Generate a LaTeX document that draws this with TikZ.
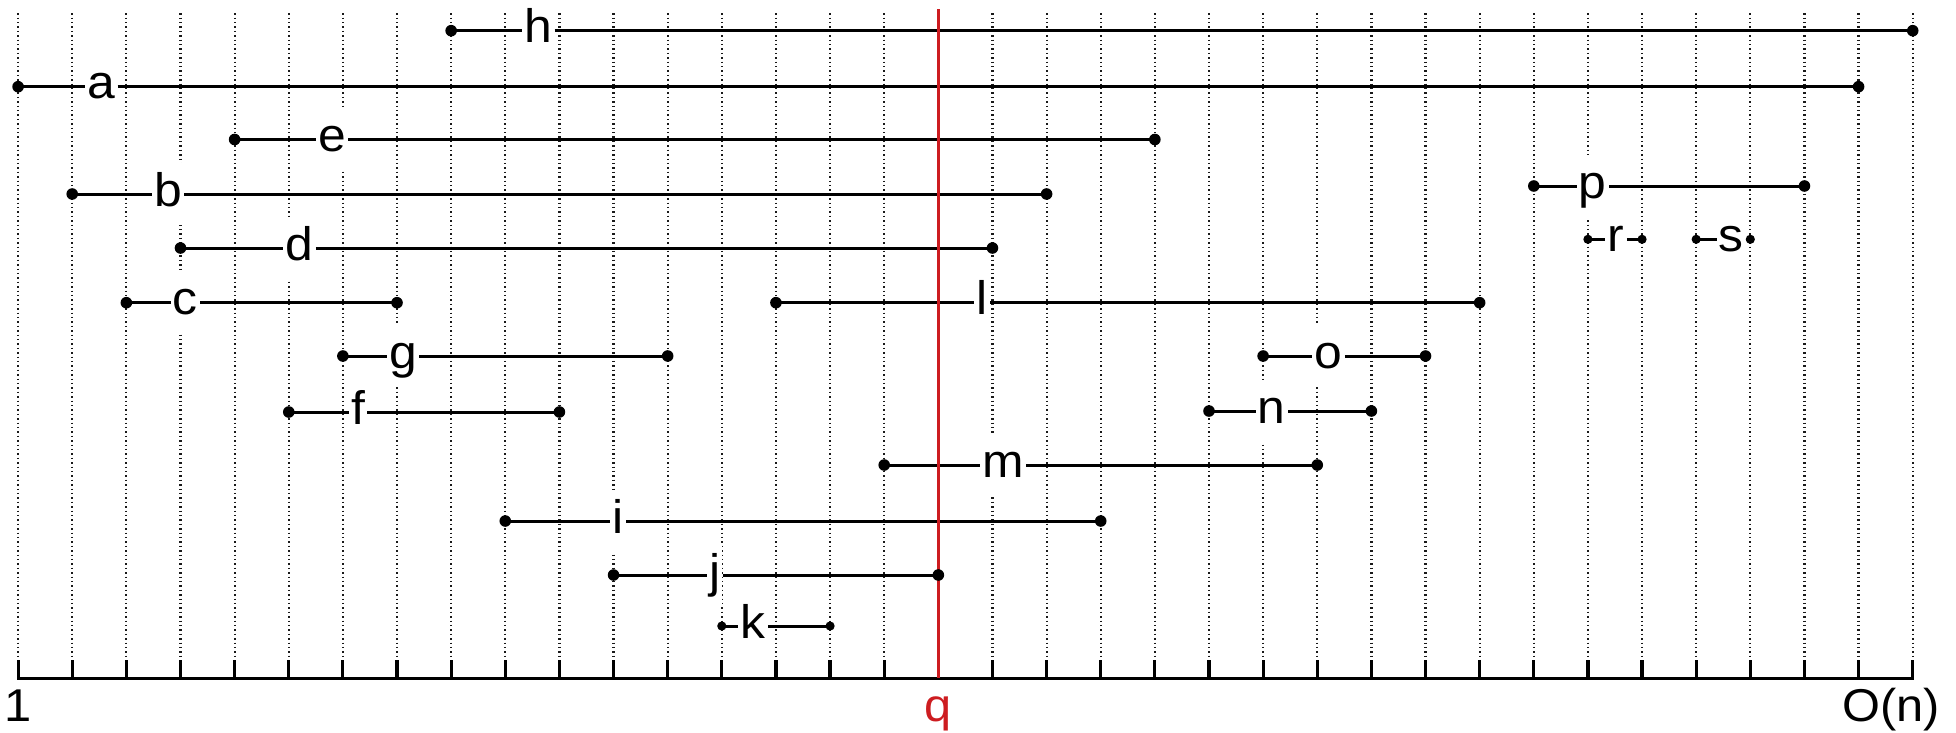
\documentclass[tikz,border=0pt]{standalone}
\usepackage{fontspec}
\setmainfont{Liberation Sans}
\newfontfamily\labfont[FakeStretch=1.06]{Liberation Sans}
\definecolor{qred}{RGB}{205,28,32}
\tikzset{
  gridline/.style={black!90, line width=1.1pt, dash pattern=on 0.7pt off 1.5pt},
  seg/.style={line width=1.5pt},
  axisline/.style={line width=1.6pt},
  qline/.style={qred, line width=1.5pt},
  lab/.style={fill=white, inner xsep=1pt, inner ysep=0pt, text height=21.6pt, text depth=9.4pt,
              font=\labfont\fontsize{23.5}{26}\selectfont},
  axlab/.style={anchor=base, inner sep=0pt, font=\labfont\fontsize{23}{26}\selectfont},
}
\begin{document}
\begin{tikzpicture}[x=27.065pt, y=-0.5pt]
\useasboundingbox (-0.3344,0) rectangle (35.80,732);
% grid
\foreach \k in {0,...,35} {
  \draw[gridline] (\k,13.3) -- (\k,660);
}
% axis
\coordinate (ax0) at (0,678.3);
\coordinate (ax35) at (35,678.3);
\draw[axisline] (0,660) -- (ax0) -- (ax35) -- (35,660);
\foreach \k in {1,...,34} {
  \draw[axisline] (\k,660) -- (\k,678.3);
}
% intervals
\foreach \n/\l/\r/\t/\y in {
  h/8/35/9.61/30.7, a/0/34/1.54/86.7, e/4/21/5.8/139.5, b/1/19/2.77/194,
  p/28/33/29.09/186, d/3/18/5.2/248, r/29/30/29.52/239.3, s/31/32/31.65/239.3,
  c/2/7/3.09/302.7, l/14/27/17.81/302.7, g/6/12/7.11/356, o/23/26/24.21/356,
  f/5/10/6.28/412, n/22/25/23.16/411, m/16/24/18.2/465, i/9/20/11.09/521,
  j/11/17/12.87/575, k/13/15/13.58/626} {
  \coordinate (\n-L) at (\l,\y);
  \coordinate (\n-R) at (\r,\y);
  \node[lab] (\n-t) at (\t,\y) {\n};
  \draw[seg] (\n-L) -- (\n-t) -- (\n-R);
}
% q line
\coordinate (qtop) at (17,9.3);
\coordinate (qbot) at (17,678.3);
\draw[qline] (qtop) -- (qbot);
% dots
\foreach \n in {h,a,e,b,p,d,c,l,g,o,f,n,m,i,j} {
  \fill (\n-L) circle[radius=2.9pt];
  \fill (\n-R) circle[radius=2.9pt];
}
\foreach \n in {r,s,k} {
  \fill (\n-L) circle[radius=2.3pt];
  \fill (\n-R) circle[radius=2.3pt];
}
% axis labels
\node[axlab] (one) at (0,721.5) {1};
\node[axlab, text=qred] (qlab) at (17,721.5) {q};
\node[axlab] (on) at (34.6,721.5) {O(n)};
\end{tikzpicture}
\end{document}
